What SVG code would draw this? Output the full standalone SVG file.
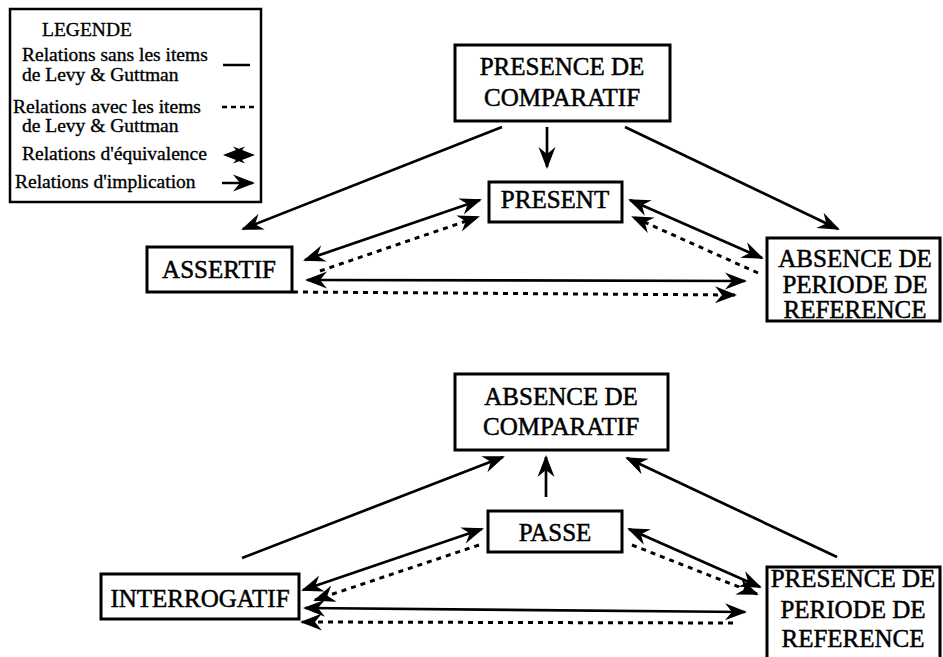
<svg xmlns="http://www.w3.org/2000/svg" width="943" height="657" viewBox="0 0 943 657">
<style>
  .box { fill: #fff; stroke: #000; stroke-width: 3; }
  .lt { font-family: "Liberation Serif", "Times New Roman", serif; font-size: 19.5px; fill: #000; stroke: #000; stroke-width: 0.35; }
  .nt { font-family: "Liberation Serif", "Times New Roman", serif; font-size: 25px; fill: #000; stroke: #000; stroke-width: 0.5; text-anchor: middle; }
  .s { fill: none; stroke: #000; stroke-width: 2.7; }
  .d { fill: none; stroke: #000; stroke-width: 3; stroke-dasharray: 5 5; }
</style>
<defs>
  <marker id="ah" markerUnits="userSpaceOnUse" viewBox="-22 -10 26 20" refX="0" refY="0" markerWidth="26" markerHeight="20" orient="auto-start-reverse" overflow="visible">
    <path d="M2,0 L-20,-8.5 L-13,0 L-20,8.5 Z" fill="#000" stroke="none"/>
  </marker>
</defs>
<rect width="943" height="657" fill="#fff"/>

<g id="legend">
  <rect x="10" y="9" width="251" height="193" fill="#fff" stroke="#000" stroke-width="2.5"/>
  <text class="lt" x="42" y="36">LEGENDE</text>
  <text class="lt" x="22" y="61">Relations sans les items</text>
  <text class="lt" x="22" y="81">de Levy &amp; Guttman</text>
  <line x1="223" y1="65" x2="250" y2="65" stroke="#000" stroke-width="2.5"/>
  <text class="lt" x="13" y="113">Relations avec les items</text>
  <text class="lt" x="22" y="132">de Levy &amp; Guttman</text>
  <line x1="222" y1="107" x2="256" y2="107" stroke="#000" stroke-width="2.5" stroke-dasharray="5 4"/>
  <text class="lt" x="22" y="160">Relations d'équivalence</text>
  <line x1="225" y1="155" x2="253" y2="155" stroke="#000" stroke-width="2" marker-start="url(#ah)" marker-end="url(#ah)"/>
  <text class="lt" x="15" y="188">Relations d'implication</text>
  <line x1="222" y1="183" x2="253" y2="183" stroke="#000" stroke-width="2.5" marker-end="url(#ah)"/>
</g>

<g id="presence-comparatif">
  <rect class="box" x="455" y="45" width="215" height="76"/>
  <text class="nt" x="562" y="75">PRESENCE DE</text>
  <text class="nt" x="562" y="106">COMPARATIF</text>
</g>
<g id="present">
  <rect class="box" x="489" y="182" width="133" height="40"/>
  <text class="nt" x="555" y="208">PRESENT</text>
</g>
<g id="assertif">
  <rect class="box" x="147" y="247" width="145" height="45"/>
  <text class="nt" x="219" y="278">ASSERTIF</text>
</g>
<g id="absence-periode">
  <rect class="box" x="767" y="238" width="173" height="83"/>
  <text class="nt" x="855" y="267">ABSENCE DE</text>
  <text class="nt" x="855" y="293">PERIODE DE</text>
  <text class="nt" x="855" y="318">REFERENCE</text>
</g>

<g id="absence-comparatif">
  <rect class="box" x="455" y="374" width="213" height="76"/>
  <text class="nt" x="561" y="405">ABSENCE DE</text>
  <text class="nt" x="561" y="435">COMPARATIF</text>
</g>
<g id="passe">
  <rect class="box" x="488" y="511" width="134" height="41"/>
  <text class="nt" x="555" y="541">PASSE</text>
</g>
<g id="interrogatif">
  <rect class="box" x="101" y="574" width="198" height="45"/>
  <text class="nt" x="200" y="607">INTERROGATIF</text>
</g>
<g id="presence-periode">
  <rect class="box" x="767" y="567" width="173" height="100"/>
  <text class="nt" x="853" y="587">PRESENCE DE</text>
  <text class="nt" x="853" y="618">PERIODE DE</text>
  <text class="nt" x="853" y="647">REFERENCE</text>
</g>

<g id="connectors">
  <line class="s" x1="502" y1="127" x2="243" y2="229" marker-end="url(#ah)"/>
  <line class="s" x1="547" y1="127" x2="547" y2="167" marker-end="url(#ah)"/>
  <line class="s" x1="625" y1="127" x2="838" y2="229" marker-end="url(#ah)"/>
  <line class="s" x1="305" y1="260" x2="480" y2="200" marker-start="url(#ah)" marker-end="url(#ah)"/>
  <line class="d" x1="320" y1="271" x2="478" y2="217" marker-end="url(#ah)"/>
  <line class="s" x1="630" y1="200" x2="762" y2="258" marker-start="url(#ah)" marker-end="url(#ah)"/>
  <line class="d" x1="758" y1="273" x2="633" y2="217" marker-end="url(#ah)"/>
  <line class="s" x1="307" y1="280" x2="745" y2="281" marker-start="url(#ah)" marker-end="url(#ah)"/>
  <line class="d" x1="293" y1="292" x2="735" y2="295" marker-end="url(#ah)"/>

  <line class="s" x1="242" y1="558" x2="503" y2="457" marker-end="url(#ah)"/>
  <line class="s" x1="546" y1="497" x2="546" y2="457" marker-end="url(#ah)"/>
  <line class="s" x1="837" y1="557" x2="627" y2="458" marker-end="url(#ah)"/>
  <line class="s" x1="303" y1="590" x2="482" y2="529" marker-start="url(#ah)" marker-end="url(#ah)"/>
  <line class="d" x1="479" y1="545" x2="315" y2="600" marker-end="url(#ah)"/>
  <line class="s" x1="629" y1="529" x2="760" y2="587" marker-start="url(#ah)" marker-end="url(#ah)"/>
  <line class="d" x1="632" y1="545" x2="757" y2="594" marker-end="url(#ah)"/>
  <line class="s" x1="305" y1="608" x2="745" y2="612" marker-start="url(#ah)" marker-end="url(#ah)"/>
  <line class="d" x1="733" y1="623" x2="302" y2="622" marker-end="url(#ah)"/>
</g>
</svg>
